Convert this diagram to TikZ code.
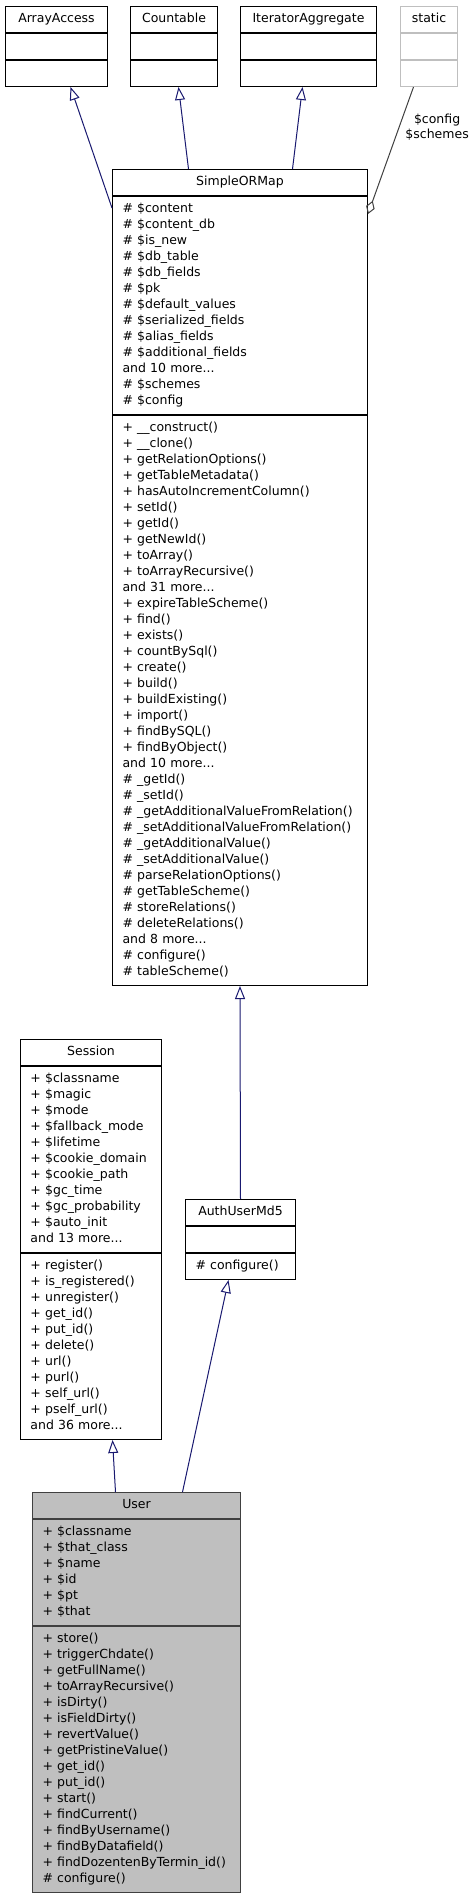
\documentclass[tikz,border=0pt]{standalone}
\usepackage{fontspec}
\setmainfont{DejaVu Sans}
\usepackage{tikz}
\usetikzlibrary{arrows.meta, positioning}

\definecolor{midnight}{HTML}{191970}
\definecolor{grey75}{HTML}{BFBFBF}
\definecolor{grey25}{HTML}{404040}

\tikzset{
  part/.style={draw, line width=1pt, inner xsep=10pt, inner ysep=5pt, align=left,
    font=\fontsize{12.5}{16}\selectfont,
    execute at begin node=\strut, execute at end node=\strut},
  head/.style={part, align=center, anchor=north west},
  extends/.style={draw=midnight, line width=1pt, -{Triangle[open, length=13pt, width=10pt]}},
  usage/.style={draw=grey25, line width=1pt, {Diamond[open, length=14pt, width=9pt]}-},
  lbl/.style={font=\fontsize{12.5}{15}\selectfont, align=center, inner sep=2pt}
}

\begin{document}
\begin{tikzpicture}[x=1pt,y=-1pt]
\useasboundingbox[fill=white] (0,0) rectangle (476,1899);

% interfaces
\begin{scope}[every node/.append style={text width=82pt}]
\node[head] (aatitle) at (5,6) {ArrayAccess};
\node[part, below=0pt of aatitle] (aaattr) {};
\node[part, below=0pt of aaattr] (aameth) {};
\end{scope}

\begin{scope}[every node/.append style={text width=67pt}]
\node[head] (cnttitle) at (130,6) {Countable};
\node[part, below=0pt of cnttitle] (cntattr) {};
\node[part, below=0pt of cntattr] (cntmeth) {};
\end{scope}

\begin{scope}[every node/.append style={text width=116pt}]
\node[head] (ittitle) at (240,6) {IteratorAggregate};
\node[part, below=0pt of ittitle] (itattr) {};
\node[part, below=0pt of itattr] (itmeth) {};
\end{scope}

\begin{scope}[every node/.append style={text width=37pt, draw=grey75}]
\node[head] (sttitle) at (400,6) {static};
\node[part, below=0pt of sttitle] (stattr) {};
\node[part, below=0pt of stattr] (stmeth) {};
\end{scope}

% SimpleORMap
\begin{scope}[every node/.append style={text width=235pt}]
\node[head] (ormaptitle) at (112,169) {SimpleORMap};
\node[part, below=0pt of ormaptitle] (ormapattr) {\# \$content\\
\# \$content\_db\\
\# \$is\_new\\
\# \$db\_table\\
\# \$db\_fields\\
\# \$pk\\
\# \$default\_values\\
\# \$serialized\_fields\\
\# \$alias\_fields\\
\# \$additional\_fields\\
and 10 more...\\
\# \$schemes\\
\# \$config};
\node[part, below=0pt of ormapattr] (ormapmeth) {+ \_\_construct()\\
+ \_\_clone()\\
+ getRelationOptions()\\
+ getTableMetadata()\\
+ hasAutoIncrementColumn()\\
+ setId()\\
+ getId()\\
+ getNewId()\\
+ toArray()\\
+ toArrayRecursive()\\
and 31 more...\\
+ expireTableScheme()\\
+ find()\\
+ exists()\\
+ countBySql()\\
+ create()\\
+ build()\\
+ buildExisting()\\
+ import()\\
+ findBySQL()\\
+ findByObject()\\
and 10 more...\\
\# \_getId()\\
\# \_setId()\\
\# \_getAdditionalValueFromRelation()\\
\# \_setAdditionalValueFromRelation()\\
\# \_getAdditionalValue()\\
\# \_setAdditionalValue()\\
\# parseRelationOptions()\\
\# getTableScheme()\\
\# storeRelations()\\
\# deleteRelations()\\
and 8 more...\\
\# configure()\\
\# tableScheme()};
\end{scope}

% Session
\begin{scope}[every node/.append style={text width=121pt}]
\node[head] (sesstitle) at (20,1039) {Session};
\node[part, below=0pt of sesstitle] (sessattr) {+ \$classname\\
+ \$magic\\
+ \$mode\\
+ \$fallback\_mode\\
+ \$lifetime\\
+ \$cookie\_domain\\
+ \$cookie\_path\\
+ \$gc\_time\\
+ \$gc\_probability\\
+ \$auto\_init\\
and 13 more...};
\node[part, below=0pt of sessattr] (sessmeth) {+ register()\\
+ is\_registered()\\
+ unregister()\\
+ get\_id()\\
+ put\_id()\\
+ delete()\\
+ url()\\
+ purl()\\
+ self\_url()\\
+ pself\_url()\\
and 36 more...};
\end{scope}

% AuthUserMd5
\begin{scope}[every node/.append style={text width=90pt}]
\node[head] (authtitle) at (185,1199) {AuthUserMd5};
\node[part, below=0pt of authtitle] (authattr) {};
\node[part, below=0pt of authattr] (authmeth) {\# configure()};
\end{scope}

% User
\begin{scope}[every node/.append style={text width=188pt, draw=grey25, fill=grey75}]
\node[head] (usertitle) at (32,1492) {User};
\node[part, below=0pt of usertitle] (userattr) {+ \$classname\\
+ \$that\_class\\
+ \$name\\
+ \$id\\
+ \$pt\\
+ \$that};
\node[part, below=0pt of userattr] (usermeth) {+ store()\\
+ triggerChdate()\\
+ getFullName()\\
+ toArrayRecursive()\\
+ isDirty()\\
+ isFieldDirty()\\
+ revertValue()\\
+ getPristineValue()\\
+ get\_id()\\
+ put\_id()\\
+ start()\\
+ findCurrent()\\
+ findByUsername()\\
+ findByDatafield()\\
+ findDozentenByTermin\_id()\\
\# configure()};
\end{scope}

\draw[extends] ([yshift=-12pt]ormapattr.north west) -- ([xshift=14pt]aameth.south);
\draw[extends] ([xshift=-51.5pt]ormaptitle.north) -- ([xshift=4.5pt]cntmeth.south);
\draw[extends] ([xshift=52.5pt]ormaptitle.north) -- ([xshift=-6pt]itmeth.south);
\draw[usage] ([yshift=-18pt]ormapattr.north east) -- node[lbl, pos=0.68, anchor=west, xshift=4pt] (cfglabel) {\$config\\\$schemes} ([xshift=-15.5pt]stmeth.south);
\draw[extends] (authtitle.north) -- (ormapmeth.south);
\draw[extends] ([xshift=-21pt]usertitle.north) -- ([xshift=21.5pt]sessmeth.south);
\draw[extends] ([xshift=46pt]usertitle.north) -- ([xshift=-12pt]authmeth.south);
%\draw[step=10pt,color=gray!50!white] (0,0) grid (476,1899);

\end{tikzpicture}
\end{document}
